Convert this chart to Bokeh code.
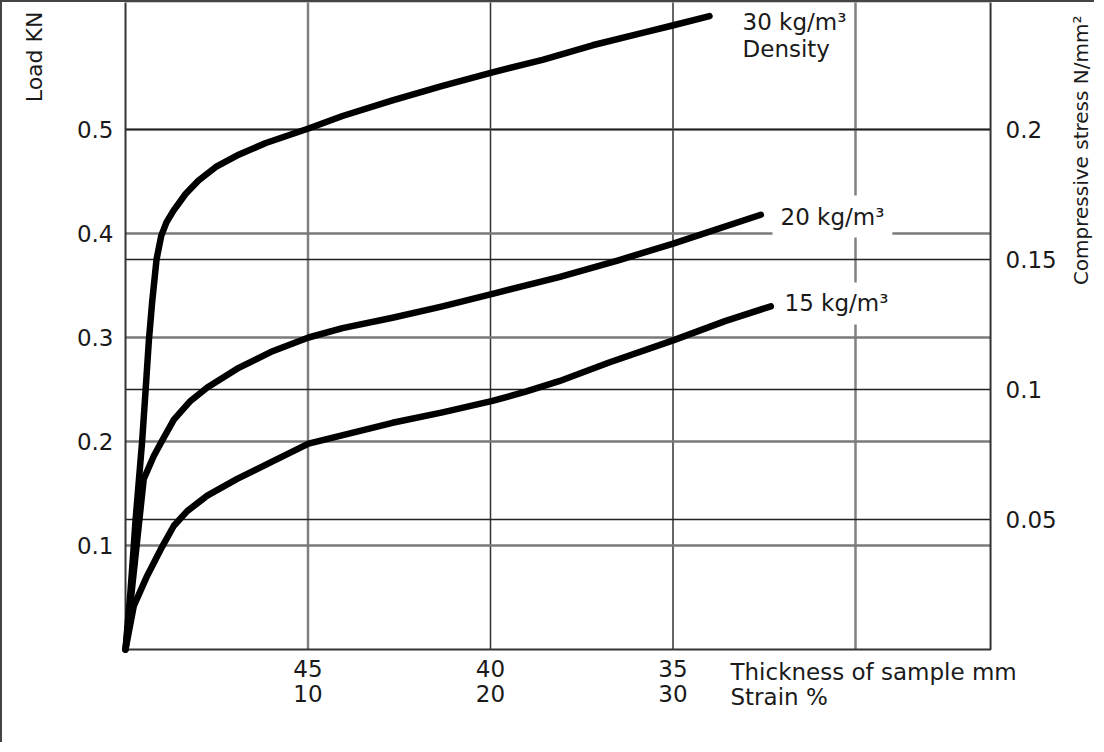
import math
from bokeh.plotting import figure
from bokeh.models import Range1d, LinearAxis, FixedTicker, Label
from bokeh.embed import file_html
from bokeh.resources import INLINE

# ---- data (strain %, load kN) ----
strain_30 = [0, 0.27, 0.455, 0.55, 0.915, 1.10, 1.28, 1.46, 1.70, 1.96, 2.25, 2.63, 3.29, 4.0,
             4.95, 6.23, 7.69, 10.03, 11.89, 14.63, 17.37, 20.11, 22.85, 25.59, 28.33, 29.97, 32.0]
load_30 = [0, 0.055, 0.100, 0.124, 0.201, 0.249, 0.297, 0.334, 0.375, 0.398, 0.411, 0.422, 0.438, 0.451,
           0.464, 0.476, 0.487, 0.501, 0.513, 0.528, 0.542, 0.555, 0.567, 0.581, 0.593, 0.600, 0.609]

strain_20 = [0, 1.0, 1.55, 2.01, 2.65, 3.56, 4.48, 6.12, 7.95, 10.03, 11.89, 14.63, 17.37, 20.11,
             23.76, 26.96, 29.97, 34.81]
load_20 = [0, 0.164, 0.186, 0.201, 0.221, 0.239, 0.252, 0.270, 0.286, 0.300, 0.309, 0.319, 0.330, 0.342,
           0.358, 0.374, 0.390, 0.418]

strain_15 = [0, 0.455, 1.19, 1.92, 2.65, 3.38, 4.48, 6.12, 7.95, 10.03, 14.63, 17.37, 20.11, 21.93,
             23.76, 26.5, 29.97, 32.89, 35.36]
load_15 = [0, 0.042, 0.071, 0.096, 0.119, 0.133, 0.148, 0.164, 0.180, 0.198, 0.218, 0.228, 0.239, 0.248,
           0.258, 0.276, 0.297, 0.316, 0.330]

series_labels = ["30 kg/m³", "20 kg/m³", "15 kg/m³"]

load_ticks = [0.1, 0.2, 0.3, 0.4, 0.5]
load_tick_labels = ["0.1", "0.2", "0.3", "0.4", "0.5"]
stress_ticks = [0.05, 0.1, 0.15, 0.2]
stress_tick_labels = ["0.05", "0.1", "0.15", "0.2"]
thickness_ticks = [45, 40, 35]
strain_ticks = [10, 20, 30]
strain_grid = [10, 20, 30, 40]

STRAIN_MAX = 47.4          # right edge of the plot box (strain %)
LOAD_TOP = 0.6231          # top edge of the plot box (kN)
LOAD_PER_STRESS = 2.5
SAMPLE_MM = 50

# layout: the canvas spans the page; plot-box origin at pixel (OX, OY) of the canvas
PX_X = 18.25               # pixels per strain %
PX_Y = 1040.0              # pixels per kN
W, H = 1094, 742
OX, OY = 123, 647
X0, X1 = -OX / PX_X, (W - OX) / PX_X
Y0, Y1 = -(H - OY) / PX_Y, OY / PX_Y

FONT = "DejaVu Sans"
TXT = "#1a1a1a"
FS = "23px"

p = figure(width=W, height=H,
           x_range=Range1d(X0, X1), y_range=Range1d(Y0, Y1),
           x_axis_location=None, y_axis_location=None,
           output_backend="svg", toolbar_location=None,
           min_border_left=0, min_border_right=0, min_border_top=0, min_border_bottom=0)
p.styles = {"border-left": "2px solid #444444", "border-top": "2px solid #444444"}
p.outline_line_color = None
p.background_fill_color = "white"
p.border_fill_color = "white"
for g in p.grid:
    g.visible = False

p.extra_y_ranges = {"stress": Range1d(Y0 / LOAD_PER_STRESS, Y1 / LOAD_PER_STRESS)}
p.extra_x_ranges = {"thick": Range1d(SAMPLE_MM - X0 / 2, SAMPLE_MM - X1 / 2)}

# grid lines
n_s = len(strain_grid)
p.segment(x0=strain_grid, y0=[0] * n_s, x1=strain_grid, y1=[LOAD_TOP] * n_s,
          line_color=["#808080", "#333333", "#333333", "#808080"],
          line_width=[2.5, 1.5, 1.5, 2.5])
n_l = len(load_ticks)
p.segment(x0=[0] * n_l, y0=load_ticks, x1=[STRAIN_MAX] * n_l, y1=load_ticks,
          line_color="#7a7a7a", line_width=2.5)
n_st = len(stress_ticks)
p.segment(x0=[0] * n_st, y0=stress_ticks, x1=[STRAIN_MAX] * n_st, y1=stress_ticks,
          line_color="#222222", line_width=1.5, y_range_name="stress")

# plot box
p.quad(left=[0], right=[STRAIN_MAX], bottom=[0], top=[LOAD_TOP],
       fill_color=None, line_color="#333333", line_width=2)


def style_axis(ax, standoff):
    ax.axis_line_color = None
    ax.major_tick_line_color = None
    ax.minor_tick_line_color = None
    ax.major_tick_out = 0
    ax.major_tick_in = 0
    ax.major_label_standoff = standoff
    ax.major_label_text_font = FONT
    ax.major_label_text_font_size = FS
    ax.major_label_text_color = TXT


left = LinearAxis(ticker=FixedTicker(ticks=load_ticks), fixed_location=0,
                  major_label_overrides=dict(zip(load_ticks, load_tick_labels)))
style_axis(left, 12)
p.add_layout(left, "left")

right = LinearAxis(y_range_name="stress", ticker=FixedTicker(ticks=stress_ticks),
                   fixed_location=STRAIN_MAX,
                   major_label_overrides=dict(zip(stress_ticks, stress_tick_labels)))
style_axis(right, 15)
p.add_layout(right, "right")

below1 = LinearAxis(x_range_name="thick", ticker=FixedTicker(ticks=thickness_ticks), fixed_location=0)
style_axis(below1, 10)
p.add_layout(below1, "below")

below2 = LinearAxis(ticker=FixedTicker(ticks=strain_ticks), fixed_location=-25 / PX_Y)
style_axis(below2, 10)
p.add_layout(below2, "below")

# curves
for xs, ys in [(strain_30, load_30), (strain_20, load_20), (strain_15, load_15)]:
    p.line(xs, ys, line_color="black", line_width=6.5, line_join="round", line_cap="round")


def add_label(text, x, y, pad=0, **kw):
    opts = dict(text_font=FONT, text_font_size=FS, text_color=TXT,
                text_align="left", text_baseline="middle")
    if pad:
        opts.update(background_fill_color="white", padding=pad)
    opts.update(kw)
    p.add_layout(Label(x=x - pad / PX_X, y=y, text=text, **opts))


# series labels (white boxes interrupt the 40 % grid line, as in the original)
pad30 = 5
add_label(series_labels[0] + "\nDensity", 33.81, 0.6163 + pad30 / PX_Y, pad=pad30,
          text_baseline="top", text_line_height=1.05)
add_label(series_labels[1], 35.89, 0.4163, pad=8)
add_label(series_labels[2], 36.11, 0.3327, pad=8)

# axis titles
add_label("Thickness of sample mm", 33.15, -0.0212)
add_label("Strain %", 33.15, -0.0452)
add_label("Load KN", -4.99, 0.6134, angle=math.pi / 2, text_align="right", text_font_size="22px")
add_label("Compressive stress N/mm²", 52.33, 0.6096, angle=math.pi / 2, text_align="right",
          text_font_size="20px")

open("out.html", "w").write(file_html(p, INLINE))
